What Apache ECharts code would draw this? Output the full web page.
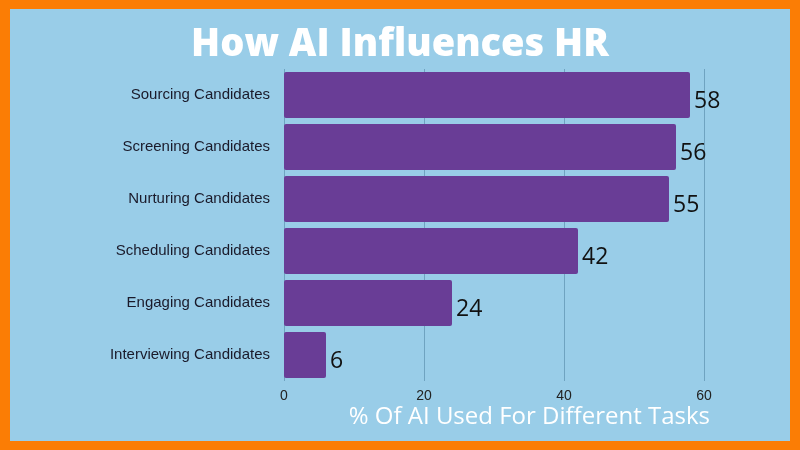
<!DOCTYPE html><html><head><meta charset="utf-8">
<script src="https://cdn.jsdelivr.net/npm/echarts@6/dist/echarts.min.js"></script>
<style>html,body{margin:0;padding:0;background:#fb7d05;width:800px;height:450px;overflow:hidden}
#c{position:absolute;left:10px;top:9px;width:780px;height:432px;background:#99cde8}</style></head><body>
<div id="c"></div>
<script>
const categories=["Sourcing Candidates","Screening Candidates","Nurturing Candidates","Scheduling Candidates","Engaging Candidates","Interviewing Candidates"];
const values=[58,56,55,42,24,6];
const chart=echarts.init(document.getElementById('c'));
chart.setOption({
 title:{text:"How AI Influences HR",left:'center',top:12,textStyle:{color:'#fff',fontSize:38,fontWeight:900,fontFamily:'Open Sans'}},
 grid:{left:274,right:86,top:60,bottom:60,containLabel:false},
 xAxis:{type:'value',min:0,max:60,interval:20,
  name:'% Of AI Used For Different Tasks',nameLocation:'end',nameGap:0,
  nameTextStyle:{color:'#fff',fontSize:24,fontFamily:'Open Sans',align:'right',verticalAlign:'top',padding:[24,-6,0,0]},
  axisLine:{show:false},axisTick:{show:false},
  axisLabel:{color:'#222',fontSize:14,fontFamily:'Liberation Sans',margin:8},
  splitLine:{lineStyle:{color:'#6fa3c0',width:1}}},
 yAxis:{type:'category',data:categories,inverse:true,
  axisLine:{show:false},axisTick:{show:false},
  axisLabel:{color:'#1a1a2a',fontSize:15,fontFamily:'Liberation Sans',margin:14}},
 series:[{type:'bar',data:values,barCategoryGap:'12%',
  itemStyle:{color:'#693d96',borderRadius:2},
  label:{show:true,position:'right',distance:4,color:'#111',fontSize:23,fontFamily:'Open Sans',offset:[0,6]}}]
});
</script></body></html>
